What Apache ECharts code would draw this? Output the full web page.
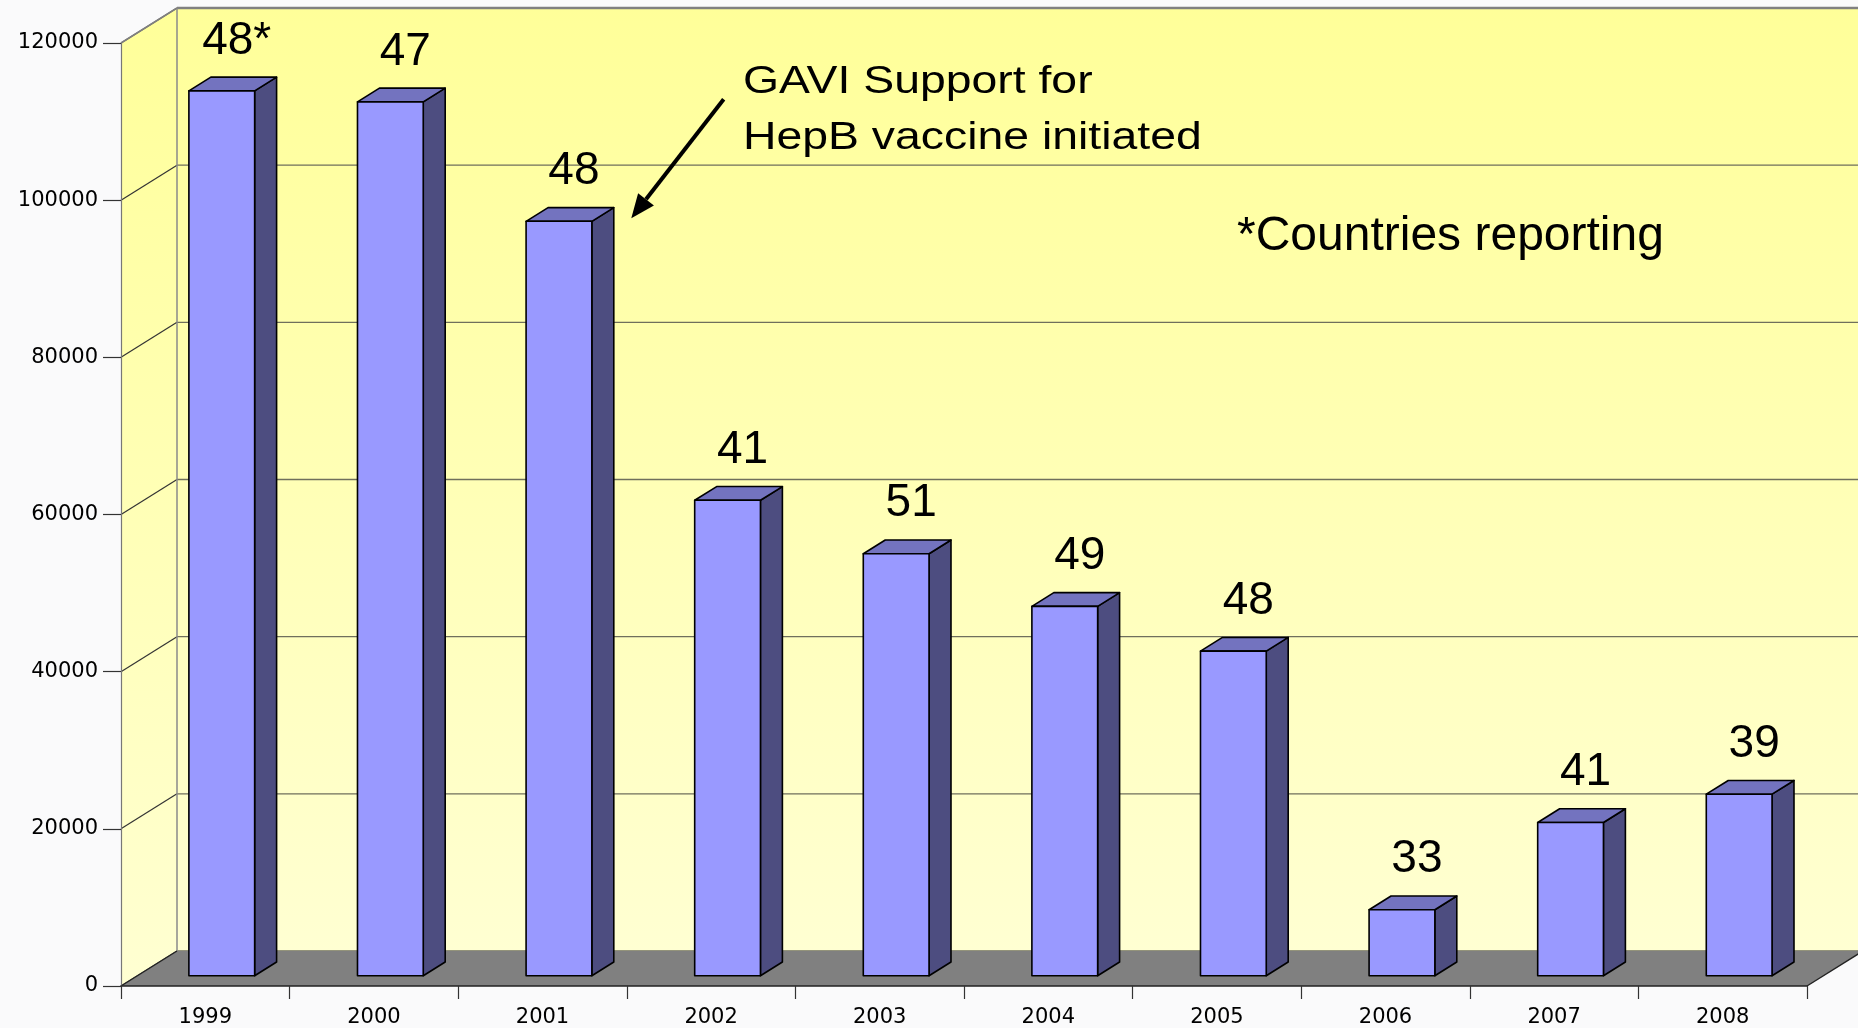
<!DOCTYPE html>
<html>
<head>
<meta charset="utf-8">
<script src="https://cdn.jsdelivr.net/npm/echarts@6/dist/echarts.min.js"></script>
<style>
html,body{margin:0;padding:0;background:#fafafb;}
#chart{width:1858px;height:1028px;}
</style>
</head>
<body>
<div id="chart"></div>
<script>
// ---- data ----
const categories = ['1999', '2000', '2001', '2002', '2003', '2004', '2005', '2006', '2007', '2008'];
const cases = [112600, 111200, 96000, 60500, 53700, 47000, 41300, 8400, 19500, 23100];
const countriesReporting = ['48*', '47', '48', '41', '51', '49', '48', '33', '41', '39'];
const yMin = 0;
const yMax = 120000;
const yInterval = 20000;
const noteLines = ['GAVI Support for', 'HepB vaccine initiated'];
const footNote = '*Countries reporting';

// ---- 3D look (style constants) ----
const DX = 56, DY = -35;      // depth offset of back wall
const D0 = 0.294, D1 = 0.686; // bar depth range
const BAR_W = 0.39;           // bar width fraction of band

const chart = echarts.init(document.getElementById('chart'));

function wallGradient() {
  return new echarts.graphic.LinearGradient(0, 0, 0, 1, [
    { offset: 0, color: '#ffff99' },
    { offset: 1, color: '#ffffd2' }
  ]);
}

function renderFrame(params, api) {
  const n = categories.length;
  const bw = api.size([1, 0])[0];
  const xL = api.coord([0, 0])[0] - bw / 2;
  const xR = api.coord([n - 1, 0])[0] + bw / 2;
  const y0 = api.coord([0, yMin])[1];
  const yT = api.coord([0, yMax])[1];
  const ext = 80;
  const ch = [];
  ch.push({ type: 'rect', shape: { x: xL + DX, y: yT + DY, width: xR - xL + ext, height: y0 - yT },
    style: { fill: wallGradient() } });
  ch.push({ type: 'polygon', shape: { points: [[xL, yT], [xL + DX, yT + DY], [xL + DX, y0 + DY], [xL, y0]] },
    style: { fill: wallGradient() } });
  for (let v = yMin; v <= yMax; v += yInterval) {
    const yv = api.coord([0, v])[1];
    ch.push({ type: 'line', shape: { x1: xL + DX, y1: yv + DY, x2: xR + DX + ext, y2: yv + DY },
      style: { stroke: '#6f6f5c', lineWidth: 1.4 } });
    ch.push({ type: 'line', shape: { x1: xL, y1: yv, x2: xL + DX, y2: yv + DY },
      style: { stroke: '#333', lineWidth: 1.2 } });
  }
  // floor
  ch.push({ type: 'polygon', shape: { points: [[xL, y0], [xR, y0], [xR + DX, y0 + DY], [xL + DX, y0 + DY]] },
    style: { fill: '#808080' } });
  // wall edges
  ch.push({ type: 'line', shape: { x1: xL + DX, y1: yT + DY, x2: xR + DX + ext, y2: yT + DY },
    style: { stroke: '#808080', lineWidth: 2.5 } });
  ch.push({ type: 'line', shape: { x1: xL + DX, y1: yT + DY, x2: xL + DX, y2: y0 + DY },
    style: { stroke: '#8a8a8a', lineWidth: 1.5 } });
  ch.push({ type: 'line', shape: { x1: xL, y1: yT, x2: xL + DX, y2: yT + DY },
    style: { stroke: '#808080', lineWidth: 1.5 } });
  ch.push({ type: 'line', shape: { x1: xL, y1: y0, x2: xL + DX, y2: y0 + DY },
    style: { stroke: '#222', lineWidth: 1.3 } });
  ch.push({ type: 'line', shape: { x1: xR, y1: y0, x2: xR + DX, y2: y0 + DY },
    style: { stroke: '#222', lineWidth: 1.3 } });
  return { type: 'group', children: ch };
}

function renderBar(params, api) {
  const idx = api.value(0);
  const v = api.value(1);
  const bw = api.size([1, 0])[0];
  const c = api.coord([idx, v]);
  const b = api.coord([idx, 0]);
  const w = bw * BAR_W;
  const xl = c[0] - w / 2 + D0 * DX;
  const xr = xl + w;
  const yt = c[1] + D0 * DY;
  const yb = b[1] + D0 * DY;
  const ddx = (D1 - D0) * DX, ddy = (D1 - D0) * DY;
  const st = { stroke: '#000', lineWidth: 1.6, lineJoin: 'round' };
  return {
    type: 'group',
    children: [
      { type: 'polygon', shape: { points: [[xr, yt], [xr + ddx, yt + ddy], [xr + ddx, yb + ddy], [xr, yb]] },
        style: Object.assign({ fill: '#4d4d80' }, st) },
      { type: 'polygon', shape: { points: [[xl, yt], [xr, yt], [xr + ddx, yt + ddy], [xl + ddx, yt + ddy]] },
        style: Object.assign({ fill: '#7373bf' }, st) },
      { type: 'rect', shape: { x: xl, y: yt, width: w, height: yb - yt },
        style: Object.assign({ fill: '#9999ff' }, st) },
      { type: 'text', x: xl + w / 2 + ddx / 2 + 4, y: yt - 50,
        style: { text: countriesReporting[idx], fontFamily: 'Liberation Sans, Arial, sans-serif',
          fontSize: 46, fill: '#000', align: 'center', verticalAlign: 'middle' } }
    ]
  };
}

// arrow geometry (annotation)
const aStart = [723.7, 99.3], aTip = [631.3, 218.3];
const adx = aTip[0] - aStart[0], ady = aTip[1] - aStart[1];
const alen = Math.sqrt(adx * adx + ady * ady);
const ux = adx / alen, uy = ady / alen;
const headL = 24, headW = 10;
const baseC = [aTip[0] - ux * headL, aTip[1] - uy * headL];

chart.setOption({
  backgroundColor: '#fafafb',
  animation: false,
  grid: { left: 121, right: 51, top: 43, bottom: 41 },
  xAxis: {
    type: 'category',
    data: categories,
    z: 10,
    axisLine: { show: true, lineStyle: { color: '#222', width: 1.5 } },
    axisTick: { show: true, length: 13, lineStyle: { color: '#333', width: 1.2 } },
    axisLabel: { margin: 21, fontFamily: 'DejaVu Sans', fontSize: 21, color: '#000' },
    splitLine: { show: false }
  },
  yAxis: {
    type: 'value',
    min: yMin, max: yMax, interval: yInterval,
    z: 10,
    axisLine: { show: true, lineStyle: { color: '#777', width: 1.2 } },
    axisTick: { show: true, length: 18, lineStyle: { color: '#333', width: 1.2 } },
    axisLabel: { margin: 23, fontFamily: 'DejaVu Sans', fontSize: 21, color: '#000',
      formatter: function (v) { return String(v); } },
    splitLine: { show: false }
  },
  series: [
    { type: 'custom', silent: true, z: 1, clip: false, renderItem: renderFrame, data: [[0, 0]] },
    { type: 'custom', z: 3, clip: false, renderItem: renderBar,
      data: cases.map((v, i) => [i, v]) }
  ],
  graphic: [
    { type: 'text', x: 743, y: 82.5, scaleX: 1.22, z: 20,
      style: { text: noteLines[0], fontFamily: 'Liberation Sans, Arial, sans-serif', fontSize: 38,
        fill: '#000', align: 'left', verticalAlign: 'middle' } },
    { type: 'text', x: 743, y: 138.5, scaleX: 1.22, z: 20,
      style: { text: noteLines[1], fontFamily: 'Liberation Sans, Arial, sans-serif', fontSize: 38,
        fill: '#000', align: 'left', verticalAlign: 'middle' } },
    { type: 'text', x: 1237, y: 237, z: 20,
      style: { text: footNote, fontFamily: 'Liberation Sans, Arial, sans-serif', fontSize: 48,
        fill: '#000', align: 'left', verticalAlign: 'middle' } },
    { type: 'line', z: 20, shape: { x1: aStart[0], y1: aStart[1], x2: baseC[0], y2: baseC[1] },
      style: { stroke: '#000', lineWidth: 4 } },
    { type: 'polygon', z: 20, shape: { points: [
        aTip,
        [baseC[0] + uy * headW, baseC[1] - ux * headW],
        [baseC[0] - uy * headW, baseC[1] + ux * headW]
      ] }, style: { fill: '#000' } }
  ]
});
</script>
</body>
</html>
